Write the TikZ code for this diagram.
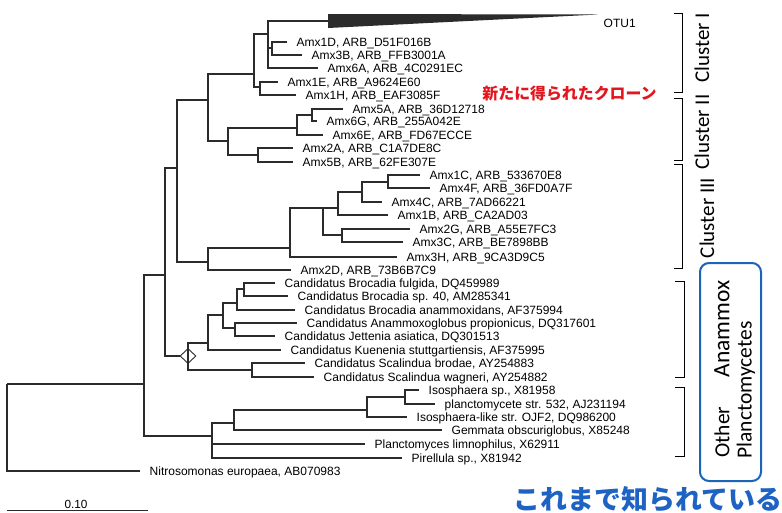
\documentclass[tikz,border=0pt]{standalone}
\usepackage{fontspec}
\setmainfont{Liberation Sans}
\newfontfamily\calib{Carlito}
\newfontfamily\jpfont{Noto Sans CJK JP}
\usetikzlibrary{shapes.geometric}
\definecolor{treeline}{HTML}{2B2B2B}
\definecolor{jpred}{HTML}{E3161E}
\definecolor{jpblue}{HTML}{1E63C4}
\definecolor{boxblue}{HTML}{1B64B8}

\begin{document}
\begin{tikzpicture}[x=1pt,y=-1pt,
  treeedge/.style={draw=treeline, line width=1.1pt},
  leaf/.style={anchor=west, inner xsep=9.5pt, inner ysep=0pt,
    font=\fontsize{12}{13}\selectfont, text height=8.6pt, text depth=0pt},
  bracketline/.style={draw=black, line width=0.9pt},
  clusterlab/.style={rotate=90, font=\calib\fontsize{21}{22}\selectfont, inner sep=0pt},
  grouplab/.style={rotate=90, font=\calib\fontsize{21.5}{22}\selectfont, inner sep=0pt},
]
\useasboundingbox[fill=white] (0,0) rectangle (782,512);

% ---------- internal branch points (x = depth, y = attachment height)
\coordinate (root) at (7,384);
\coordinate (n144) at (144,384);
\coordinate (n165) at (165,275);
\coordinate (n177) at (177,168);
\coordinate (nE) at (208,100);
\coordinate (nA) at (254,74);
\coordinate (nB) at (268,34);
\coordinate (nD) at (272,48);
\coordinate (nC) at (260,87);
\coordinate (wedgebase) at (328,21);
\coordinate (nF) at (228,141);
\coordinate (nG) at (297,128);
\coordinate (nG2) at (312,115);
\coordinate (nH) at (258,155);
\coordinate (c3) at (208,262);
\coordinate (nP) at (290,248);
\coordinate (nQ) at (323,208);
\coordinate (nR) at (338,208);
\coordinate (nR2) at (362,192);
\coordinate (nR3) at (388,182);
\coordinate (nS) at (342,235);
\coordinate (an1) at (208,343);
\coordinate (an2) at (223,315);
\coordinate (an3) at (237,303);
\coordinate (an4) at (235,328);
\coordinate (an5) at (244,289);
\coordinate (sc) at (252,370);
\coordinate (o1) at (212,436);
\coordinate (o2) at (234,423);
\coordinate (o3) at (367,410);
\coordinate (o4) at (405,397);

\node[draw=treeline, diamond, line width=0.9pt, minimum width=16pt,
  minimum height=15pt, inner sep=0pt] (an) at (188,356) {};

% ---------- leaves
\node[leaf] (l1D) at (287,42) {Amx1D, ARB\_D51F016B};
\node[leaf] (l3B) at (302,55) {Amx3B, ARB\_FFB3001A};
\node[leaf] (l6A) at (318,68) {Amx6A, ARB\_4C0291EC};
\node[leaf] (l1E) at (278,82) {Amx1E, ARB\_A9624E60};
\node[leaf] (l1H) at (296,95) {Amx1H, ARB\_EAF3085F};
\node[leaf] (l5A) at (343,109) {Amx5A, ARB\_36D12718};
\node[leaf] (l6G) at (317,121) {Amx6G, ARB\_255A042E};
\node[leaf] (l6E) at (323,135) {Amx6E, ARB\_FD67ECCE};
\node[leaf] (l2A) at (293,148) {Amx2A, ARB\_C1A7DE8C};
\node[leaf] (l5B) at (293,162) {Amx5B, ARB\_62FE307E};
\node[leaf] (l1C) at (420,175) {Amx1C, ARB\_533670E8};
\node[leaf] (l4F) at (430,188) {Amx4F, ARB\_36FD0A7F};
\node[leaf] (l4C) at (382,202) {Amx4C, ARB\_7AD66221};
\node[leaf] (l1B) at (388,215) {Amx1B, ARB\_CA2AD03};
\node[leaf] (l2G) at (410,229) {Amx2G, ARB\_A55E7FC3};
\node[leaf] (l3C) at (403,242) {Amx3C, ARB\_BE7898BB};
\node[leaf] (l3H) at (397,257) {Amx3H, ARB\_9CA3D9C5};
\node[leaf] (l2D) at (291,270) {Amx2D, ARB\_73B6B7C9};
\node[leaf] (bfu) at (275,283) {Candidatus Brocadia fulgida, DQ459989};
\node[leaf] (b40) at (288,296) {Candidatus Brocadia sp. 40, AM285341};
\node[leaf] (ban) at (295,310) {Candidatus Brocadia anammoxidans, AF375994};
\node[leaf] (apr) at (297,323) {Candidatus Anammoxoglobus propionicus, DQ317601};
\node[leaf] (jas) at (275,336) {Candidatus Jettenia asiatica, DQ301513};
\node[leaf] (kst) at (281,350) {Candidatus Kuenenia stuttgartiensis, AF375995};
\node[leaf] (sbr) at (305,363) {Candidatus Scalindua brodae, AY254883};
\node[leaf] (swa) at (314,377) {Candidatus Scalindua wagneri, AY254882};
\node[leaf] (iso) at (419,390) {Isosphaera sp., X81958};
\node[leaf] (p532) at (435,404) {planctomycete str. 532, AJ231194};
\node[leaf] (isl) at (407,417) {Isosphaera-like str. OJF2, DQ986200};
\node[leaf] (gem) at (442,430) {Gemmata obscuriglobus, X85248};
\node[leaf] (pli) at (365,444) {Planctomyces limnophilus, X62911};
\node[leaf] (pir) at (402,458) {Pirellula sp., X81942};
\node[leaf] (nit) at (140,471) {Nitrosomonas europaea, AB070983};
\node[leaf] (otu) at (594,23) {OTU1};

% ---------- collapsed OTU1 clade
\fill[treeline] (328,14) -- (598,14.5) -- (328,28) -- cycle;

% ---------- branches
\draw[treeedge] (root) |- (n144) (root) |- (nit.west);
\draw[treeedge] (n144) |- (n165) (n144) |- (o1);
\draw[treeedge] (n165) |- (n177) (n165) |- (an.west);
\draw[treeedge] (n177) |- (nE) (n177) |- (c3);
% clusters I and II
\draw[treeedge] (nE) |- (nA) (nE) |- (nF);
\draw[treeedge] (nA) |- (nB) (nA) |- (nC);
\draw[treeedge] (nB) |- (wedgebase) (nB) |- (nD) (nB) |- (l6A.west);
\draw[treeedge] (nD) |- (l1D.west) (nD) |- (l3B.west);
\draw[treeedge] (nC) |- (l1E.west) (nC) |- (l1H.west);
\draw[treeedge] (nF) |- (nG) (nF) |- (nH);
\draw[treeedge] (nG) |- (nG2) (nG) |- (l6E.west);
\draw[treeedge] (nG2) |- (l5A.west) (nG2) |- (l6G.west);
\draw[treeedge] (nH) |- (l2A.west) (nH) |- (l5B.west);
% cluster III
\draw[treeedge] (c3) |- (nP) (c3) |- (l2D.west);
\draw[treeedge] (nP) |- (nQ) (nP) |- (l3H.west);
\draw[treeedge] (nQ) |- (nR) (nQ) |- (nS);
\draw[treeedge] (nR) |- (nR2) (nR) |- (l1B.west);
\draw[treeedge] (nR2) |- (nR3) (nR2) |- (l4C.west);
\draw[treeedge] (nR3) |- (l1C.west) (nR3) |- (l4F.west);
\draw[treeedge] (nS) |- (l2G.west) (nS) |- (l3C.west);
% anammox bacteria
\draw[treeedge] (an.center) |- (an1) (an.center) |- (sc);
\draw[treeedge] (an1) |- (an2) (an1) |- (kst.west);
\draw[treeedge] (an2) |- (an3) (an2) |- (an4);
\draw[treeedge] (an3) |- (an5) (an3) |- (ban.west);
\draw[treeedge] (an5) |- (bfu.west) (an5) |- (b40.west);
\draw[treeedge] (an4) |- (apr.west) (an4) |- (jas.west);
\draw[treeedge] (sc) |- (sbr.west) (sc) |- (swa.west);
% other planctomycetes
\draw[treeedge] (o1) |- (o2) (o1) |- (pli.west) (o1) |- (pir.west);
\draw[treeedge] (o2) |- (o3) (o2) |- (gem.west);
\draw[treeedge] (o3) |- (o4) (o3) |- (isl.west);
\draw[treeedge] (o4) |- (iso.west) (o4) |- (p532.west);

% ---------- scale bar
\coordinate (sbl) at (7,510.5);
\coordinate (sbr) at (148,510.5);
\draw[treeedge, line width=1pt] (sbl) -- (sbr);
\node[anchor=base, inner sep=0pt, font=\fontsize{11.8}{12}\selectfont] (sblab) at (76,508.3) {0.10};

% ---------- group brackets
\draw[bracketline] (674,13) -- (682,13) -- (682,92) -- (674,92);
\draw[bracketline] (674,98) -- (682,98) -- (682,160) -- (674,160);
\draw[bracketline] (674,164) -- (682,164) -- (682,268) -- (674,268);
\draw[bracketline] (675,281) -- (684,281) -- (684,377) -- (675,377);
\draw[bracketline] (675,387) -- (684,387) -- (684,456) -- (675,456);

\node[clusterlab] (cl1) at (702,48) {Cluster I};
\node[clusterlab] (cl2) at (702,132) {Cluster II};
\node[clusterlab] (cl3) at (707,218) {Cluster III};

\node[draw=boxblue, line width=2pt, rounded corners=9pt, minimum width=61pt,
  minimum height=218pt, inner sep=0pt] (knownbox) at (730.5,372) {};
\node[grouplab, font=\calib\fontsize{23.5}{24}\selectfont] (anx) at (722,329) {Anammox};
\node[grouplab] (oth) at (722,432) {Other};
\node[grouplab] (plc) at (746,390) {Planctomycetes};

% ---------- annotations
\node[font=\jpfont\bfseries\fontsize{15.9}{16}\selectfont, text=jpred, inner sep=0pt]
  (newclones) at (569.5,93.5) {新たに得られたクローン};
\node[font=\jpfont\bfseries\fontsize{26.9}{27}\selectfont, text=jpblue, inner sep=0pt,
  anchor=base] (known) at (648,509.5) {これまで知られている};
\end{tikzpicture}
\end{document}
